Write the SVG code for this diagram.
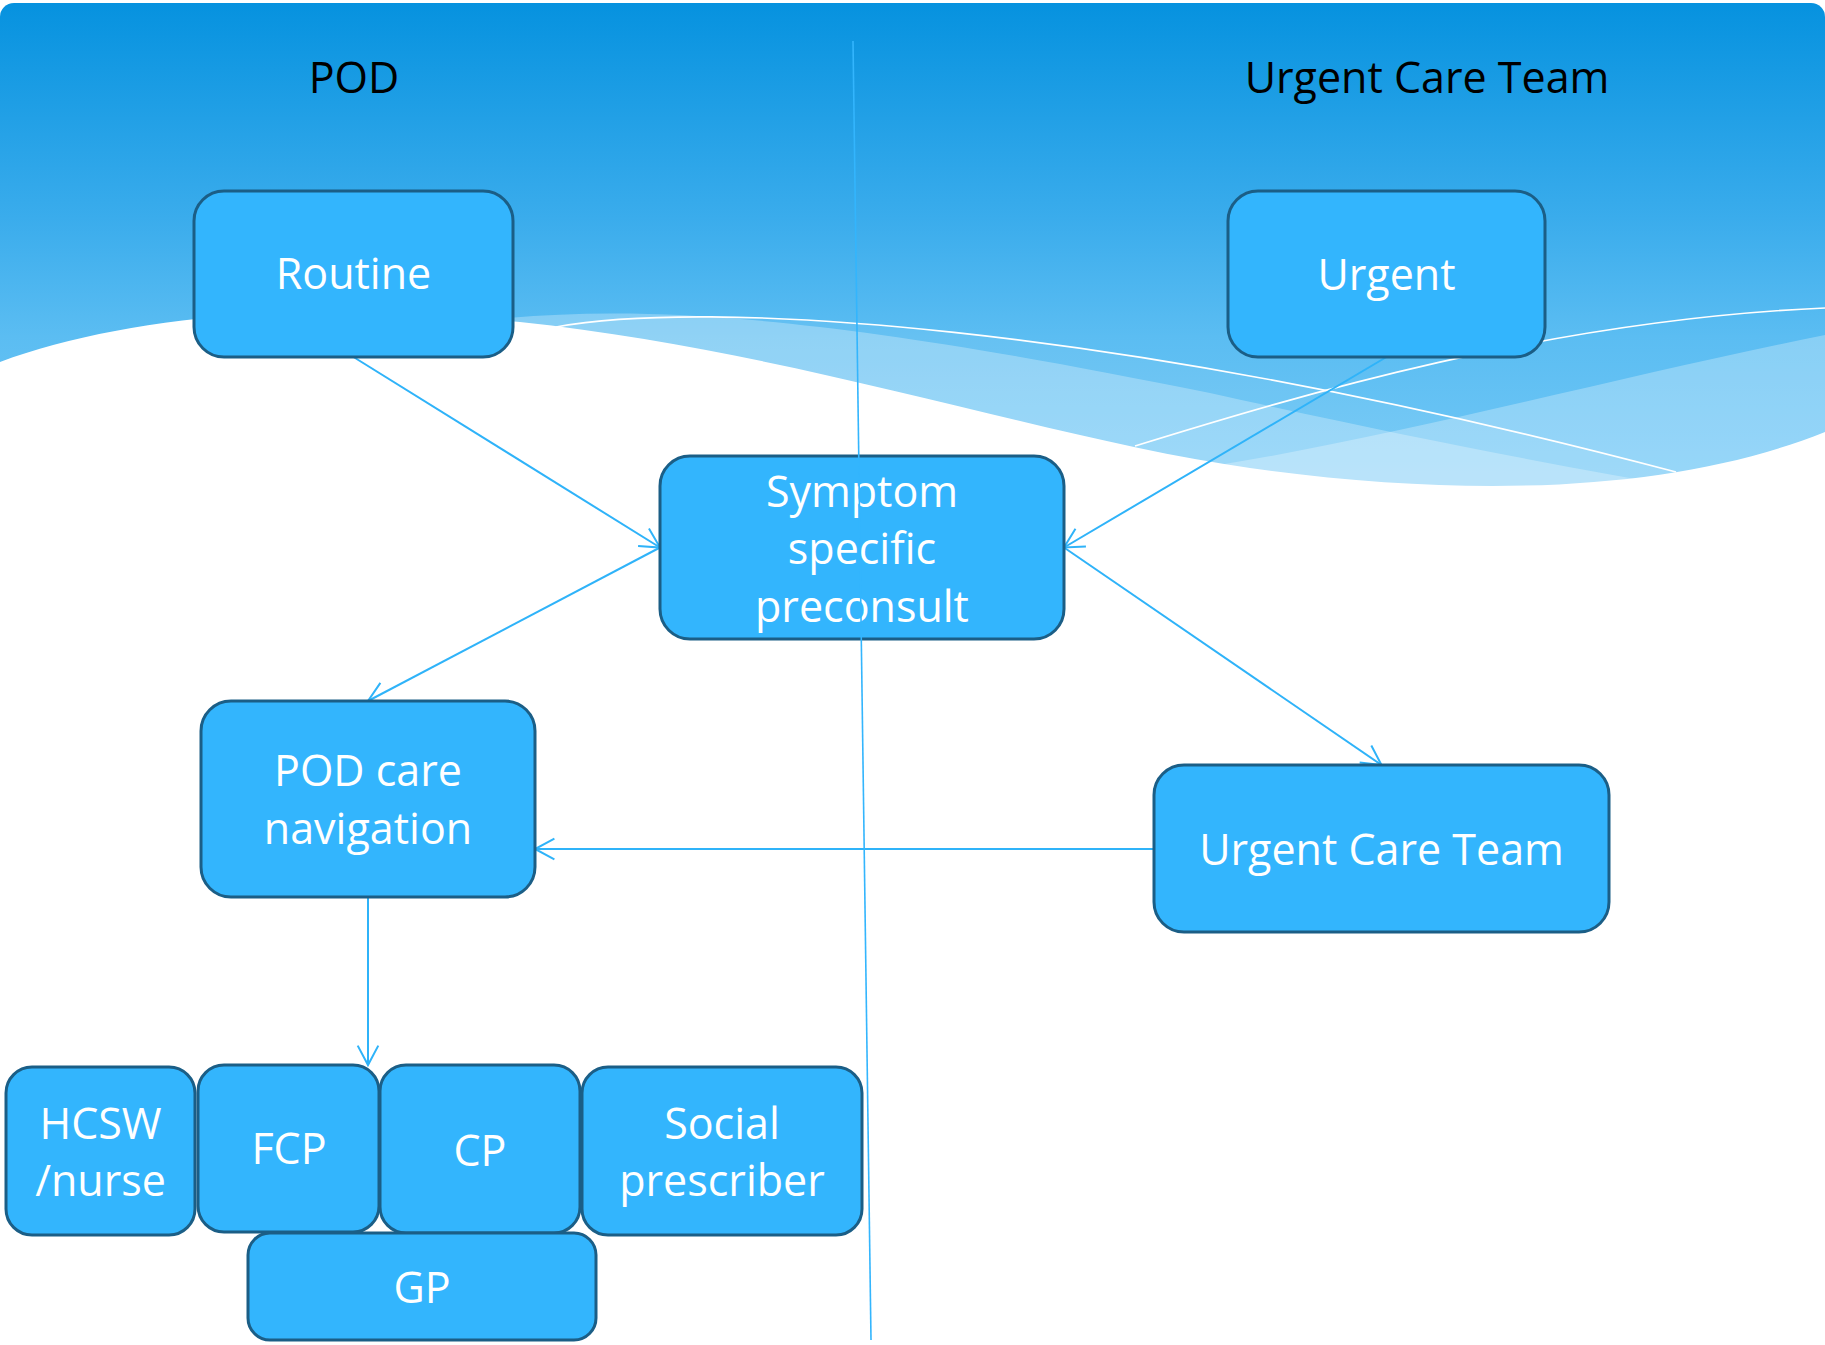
<svg xmlns="http://www.w3.org/2000/svg" width="1825" height="1345" viewBox="0 0 1825 1345">
<style>
.node rect{fill:#33b5fd;stroke:#1b5e86;stroke-width:3}
.node text{fill:#ffffff;font-family:"Open Sans","Liberation Sans",sans-serif;font-size:43px;text-anchor:middle}
.title{fill:#000000;font-family:"Open Sans","Liberation Sans",sans-serif;font-size:43px;text-anchor:middle}
.conn{stroke:#2fb3f9;stroke-width:2;fill:none;marker-end:url(#arr)}
.wline{stroke:#ffffff;stroke-width:1.6;fill:none}
</style>
<defs>
<linearGradient id="bg" gradientUnits="userSpaceOnUse" x1="0" y1="3" x2="0" y2="480">
<stop offset="0" stop-color="#0692df"/>
<stop offset="0.45" stop-color="#3aacec"/>
<stop offset="0.7" stop-color="#5bbdf2"/>
<stop offset="1" stop-color="#70c7f6"/>
</linearGradient>
<marker id="arr" viewBox="0 -12 24 24" refX="21.4" refY="0" markerWidth="24" markerHeight="24" markerUnits="userSpaceOnUse" orient="auto">
<path d="M2,-10.3 L21.4,0 L2,10.3" fill="none" stroke="#2fb3f9" stroke-width="2"/>
</marker>
</defs>
<g id="background">
<rect x="0" y="3" width="1825" height="560" rx="14" fill="url(#bg)"/>
<path d="M556,327 C700,300 1100,320 1676,472 L1676,600 L556,600 Z" fill="#ffffff" fill-opacity="0.07"/>
<path d="M470,322 C650,300 850,320 1210,393 C1400,435 1550,465 1700,490 L1700,600 L470,600 Z" fill="#ffffff" fill-opacity="0.28"/>
<path d="M1150,475 C1350,450 1600,380 1825,335 L1825,600 L1150,600 Z" fill="#ffffff" fill-opacity="0.28"/>
<path class="wline" d="M556,327 C700,300 1100,320 1676,472"/>
<path class="wline" d="M1135,446 C1300,395 1550,320 1825,308"/>
<path d="M0,362 C120,318 300,298 520,322 C800,352 1050,440 1250,468 C1480,500 1680,490 1825,432 L1825,1345 L0,1345 Z" fill="#ffffff"/>
</g>
<text class="title" x="354" y="93">POD</text>
<text class="title" x="1427" y="93">Urgent Care Team</text>
<g id="connectors">
<line class="conn" x1="353.5" y1="357" x2="660" y2="547.5"/>
<line class="conn" x1="1386.5" y1="357" x2="1064" y2="547.5"/>
<line class="conn" x1="660" y1="547.5" x2="368" y2="701"/>
<line class="conn" x1="1064" y1="547.5" x2="1381.5" y2="765"/>
<line class="conn" x1="1154" y1="849" x2="535" y2="849"/>
<line class="conn" x1="368" y1="897" x2="368" y2="1065"/>
</g>
<g id="routine" class="node"><rect x="194" y="191" width="319" height="166" rx="30"/><text x="353.5" y="289">Routine</text></g>
<g id="urgent" class="node"><rect x="1228" y="191" width="317" height="166" rx="30"/><text x="1386.5" y="290">Urgent</text></g>
<g id="symptom" class="node"><rect x="660" y="456" width="404" height="183" rx="30"/><text x="862" y="507">Symptom</text><text x="862" y="564">specific</text><text x="862" y="622">preconsult</text></g>
<g id="podcare" class="node"><rect x="201" y="701" width="334" height="196" rx="30"/><text x="368" y="786">POD care</text><text x="368" y="844">navigation</text></g>
<g id="uct" class="node"><rect x="1154" y="765" width="455" height="167" rx="30"/><text x="1381.5" y="865">Urgent Care Team</text></g>
<g id="hcsw" class="node"><rect x="6" y="1067" width="189" height="168" rx="26"/><text x="100.5" y="1139">HCSW</text><text x="100.5" y="1196">/nurse</text></g>
<g id="fcp" class="node"><rect x="198" y="1065" width="181" height="167" rx="26"/><text x="289" y="1164">FCP</text></g>
<g id="cp" class="node"><rect x="380" y="1065" width="200" height="168" rx="26"/><text x="480" y="1166">CP</text></g>
<g id="social" class="node"><rect x="582" y="1067" width="280" height="168" rx="26"/><text x="722" y="1139">Social</text><text x="722" y="1196">prescriber</text></g>
<g id="gp" class="node"><rect x="248" y="1233" width="348" height="107" rx="22"/><text x="422" y="1303">GP</text></g>
<line id="divider" x1="853" y1="41" x2="871" y2="1340" stroke="#33b5fd" stroke-width="1.6"/>
</svg>
